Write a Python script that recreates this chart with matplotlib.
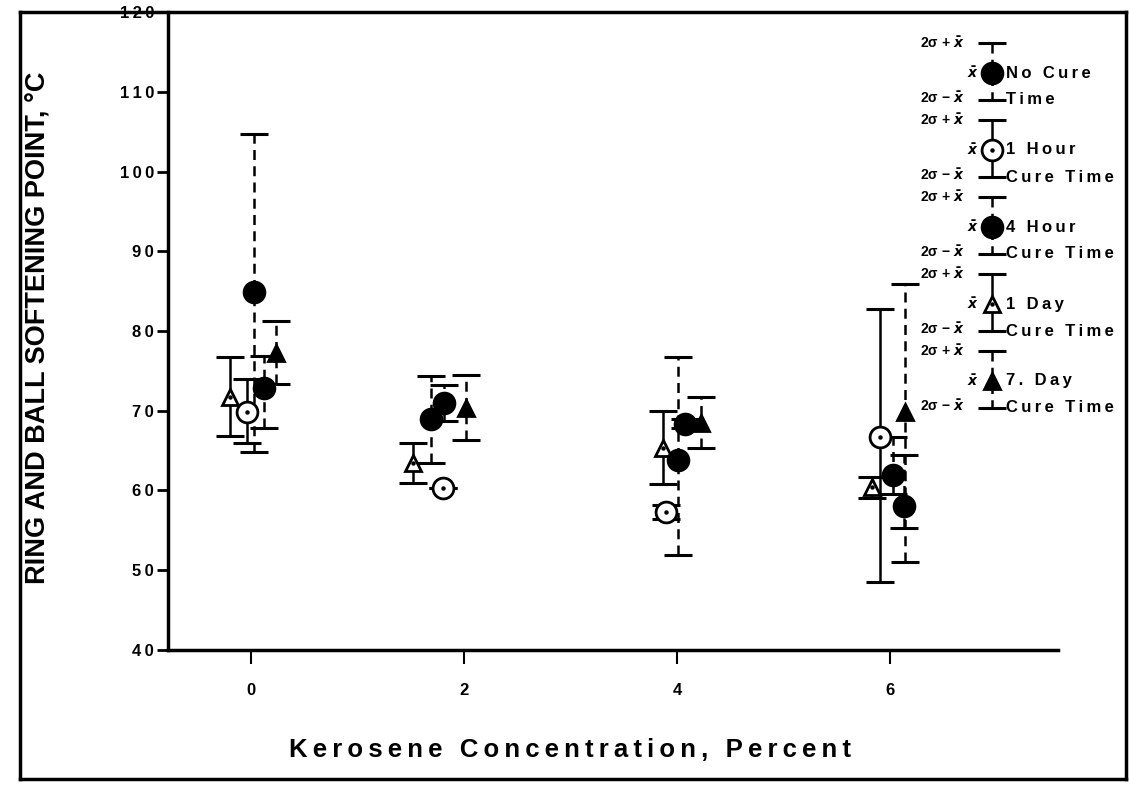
import matplotlib
matplotlib.use('Agg')
import matplotlib.pyplot as plt
from matplotlib.lines import Line2D

plt.rcParams['font.family'] = ['Liberation Sans', 'DejaVu Sans']
plt.rcParams['font.weight'] = 'bold'

# valores (media, limite inferior 2s - x, limite superior 2s + x)
concentracoes = [0, 2, 4, 6]
y_ticks = [40, 50, 60, 70, 80, 90, 100, 110, 120]

no_cure_x = [0.03, 1.69, 4.01, 6.03]
no_cure_y = [84.9, 69.0, 63.8, 61.9]
no_cure_lo = [64.8, 63.4, 51.9, 59.6]
no_cure_hi = [104.7, 74.4, 76.7, 66.7]

hour1_x = [-0.04, 1.80, 3.90, 5.91]
hour1_y = [69.8, 60.3, 57.3, 66.7]
hour1_lo = [65.9, 60.3, 56.4, 48.5]
hour1_hi = [74.0, 60.3, 58.2, 82.8]

hour4_x = [0.12, 1.81, 4.08, 6.13]
hour4_y = [72.9, 71.0, 68.4, 58.0]
hour4_lo = [67.8, 68.7, 67.8, 55.3]
hour4_hi = [76.9, 73.2, 69.0, 64.4]

day1_x = [-0.20, 1.52, 3.87, 5.83]
day1_y = [71.7, 63.4, 65.3, 60.4]
day1_lo = [66.8, 61.0, 60.8, 59.1]
day1_hi = [76.8, 65.9, 70.0, 61.7]

day7_x = [0.23, 2.02, 4.23, 6.14]
day7_y = [77.2, 70.3, 68.5, 69.8]
day7_lo = [73.4, 66.3, 65.3, 51.0]
day7_hi = [81.2, 74.5, 71.7, 85.9]

legenda_1 = ['No Cure', '1 Hour', '4 Hour', '1 Day', '7. Day']
legenda_2 = ['Time', 'Cure Time', 'Cure Time', 'Cure Time', 'Cure Time']

TRACO = (0, (4, 2.5))


def espacado(s):
    return '\u2009'.join(s)


def serie(ax, x, y, lo, hi, marcador, cheio, tracejado, ms):
    menos = [a - b for a, b in zip(y, lo)]
    mais = [b - a for a, b in zip(y, hi)]
    eb = ax.errorbar(x, y, yerr=[menos, mais], fmt='none', ecolor='black',
                     elinewidth=1.8, capsize=10, capthick=2.2, zorder=2)
    if tracejado:
        eb[2][0].set_linestyle(TRACO)
    ax.plot(x, y, linestyle='none', marker=marcador, markersize=ms,
            markerfacecolor='black' if cheio else 'white',
            markeredgecolor='black', markeredgewidth=2, zorder=3)
    if not cheio:
        ax.plot(x, y, linestyle='none', marker='o', markersize=2.2,
                color='black', zorder=4)


fig = plt.figure(figsize=(11.3, 7.86), dpi=100)
ax = fig.add_axes([168 / 1130, 1 - 650 / 786, (1058 - 168) / 1130, (650 - 12) / 786])

serie(ax, day1_x, day1_y, day1_lo, day1_hi, '^', False, False, 12)
serie(ax, hour1_x, hour1_y, hour1_lo, hour1_hi, 'o', False, False, 15)
serie(ax, no_cure_x, no_cure_y, no_cure_lo, no_cure_hi, 'o', True, True, 15)
serie(ax, hour4_x, hour4_y, hour4_lo, hour4_hi, 'o', True, True, 15)
serie(ax, day7_x, day7_y, day7_lo, day7_hi, '^', True, True, 12)

ax.set_xlim(-0.78, 7.58)
ax.set_ylim(40, 120)
ax.set_xticks(concentracoes)
ax.set_xticklabels([str(c) for c in concentracoes], fontsize=12, fontweight='bold')
ax.set_yticks(y_ticks)
ax.set_yticklabels([espacado(str(t)) for t in y_ticks], fontsize=12, fontweight='bold')
ax.tick_params(axis='y', direction='out', length=8, width=2, pad=2)
ax.tick_params(axis='x', direction='out', length=10, width=1.5, pad=14)
ax.spines['top'].set_visible(False)
ax.spines['right'].set_visible(False)
ax.spines['left'].set_linewidth(2.5)
ax.spines['bottom'].set_linewidth(2.5)

fig.text(38 / 1130, 1 - 328 / 786, 'RING AND BALL SOFTENING POINT, °C',
         fontsize=19.5, fontweight='bold', rotation=90, ha='center', va='center')
fig.text(570 / 1130, 1 - 750 / 786, espacado('Kerosene Concentration, Percent'),
         fontsize=18.5, fontweight='bold', ha='center', va='center')

# moldura externa
for xs, ys in [([20, 1126], [12, 12]), ([20, 20], [12, 779]),
               ([20, 1126], [779, 779]), ([1126, 1126], [12, 779])]:
    fig.add_artist(Line2D([v / 1130 for v in xs], [1 - v / 786 for v in ys],
                          color='black', linewidth=2.5))

# legenda desenhada a mao
leg = fig.add_axes([900 / 1130, 1 - 425 / 786, 226 / 1130, 395 / 786])
leg.set_xlim(900, 1126)
leg.set_ylim(425, 30)
leg.axis('off')
leg.patch.set_alpha(0)
estilos = [('o', True, True, 15), ('o', False, False, 15), ('o', True, True, 15),
           ('^', False, False, 12), ('^', True, True, 12)]
for k, (m, cheio, tracejado, ms) in enumerate(estilos):
    yc = 73 + 77 * k
    serie(leg, [992], [yc], [yc - 30], [yc + 27], m, cheio, tracejado, ms)
    leg.text(973, yc, r'$\bar{x}$', fontsize=10, ha='center', va='center')
    leg.text(964, yc - 30, r'2σ + $\bar{x}$', fontsize=10, ha='right', va='center')
    leg.text(964, yc + 25, r'2σ − $\bar{x}$', fontsize=10, ha='right', va='center')
    leg.text(1006, yc, espacado(legenda_1[k]), fontsize=12, fontweight='bold',
             ha='left', va='center')
    leg.text(1006, yc + 27, espacado(legenda_2[k]), fontsize=12, fontweight='bold',
             ha='left', va='center')

fig.savefig('out.png', dpi=100)
